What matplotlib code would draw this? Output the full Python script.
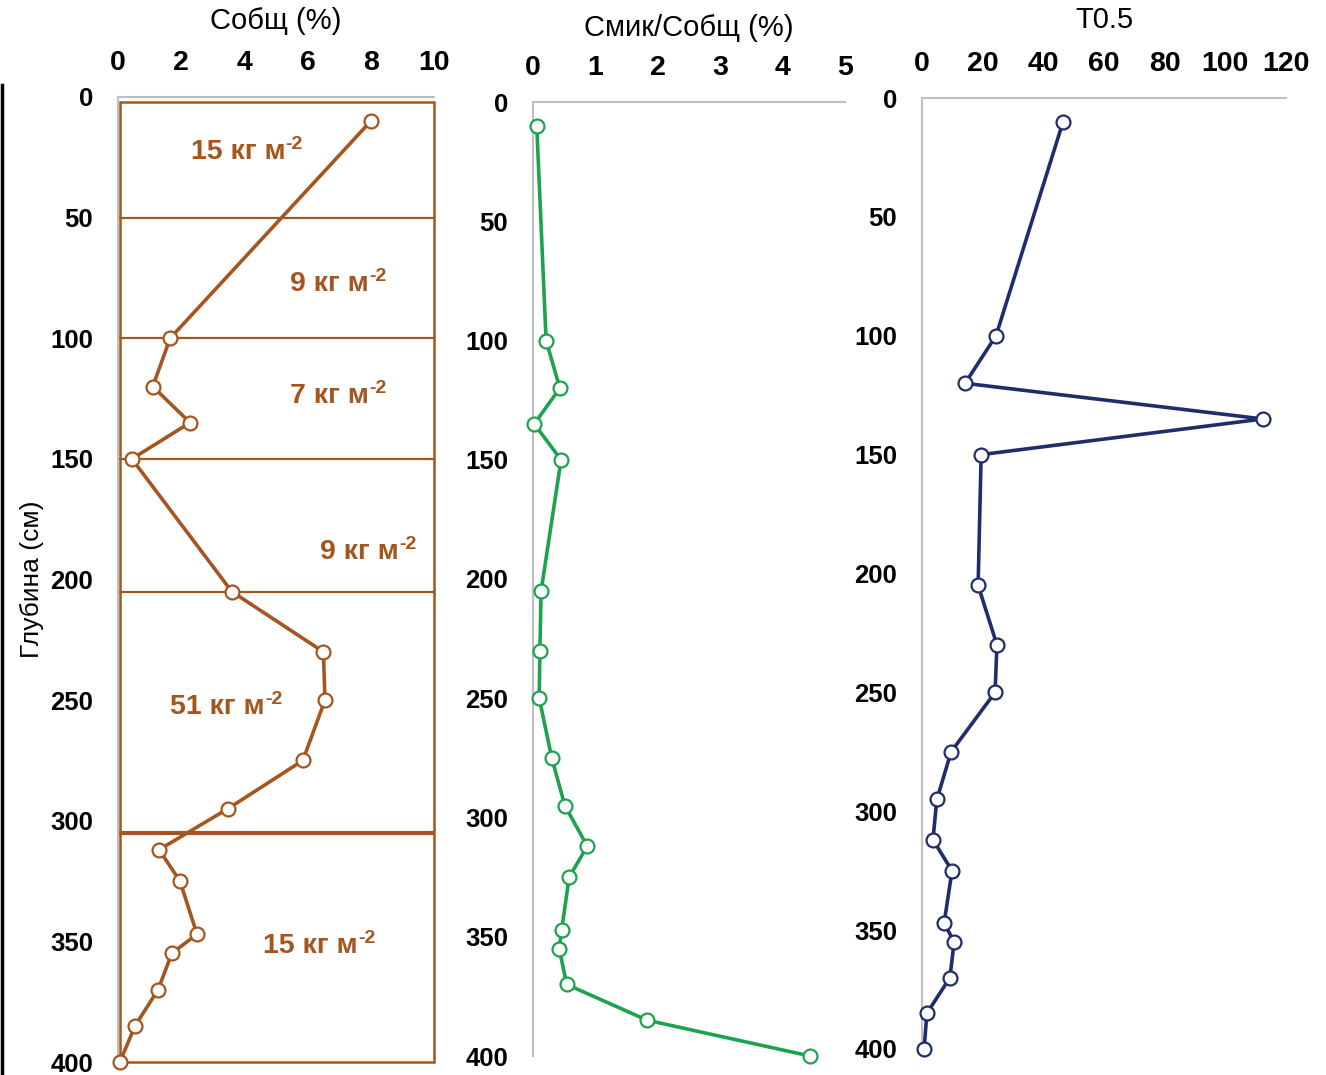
import matplotlib
matplotlib.use('Agg')
from matplotlib import pyplot as plt
from matplotlib.lines import Line2D
from matplotlib.patches import Rectangle

plt.rcParams['font.family'] = ['Liberation Sans', 'DejaVu Sans']

depth = [10, 100, 120, 135, 150, 205, 230, 250, 275, 295, 312, 325, 347, 355, 370, 385, 400]
c_total = [8.0, 1.65, 1.1, 2.28, 0.44, 3.6, 6.5, 6.55, 5.85, 3.48, 1.3, 1.96, 2.5, 1.7, 1.27, 0.54, 0.06]
c_mic_ratio = [0.06, 0.21, 0.43, 0.02, 0.45, 0.13, 0.11, 0.1, 0.3, 0.51, 0.87, 0.58, 0.46, 0.42, 0.54, 1.83, 4.44]
t05 = [46.5, 24.4, 14.2, 112.4, 19.5, 18.5, 24.7, 24.1, 9.6, 4.9, 3.6, 9.9, 7.3, 10.6, 9.2, 1.6, 0.7]

layer_bounds = [50, 100, 150, 205, 305]
stock_labels = ['15', '9', '7', '9', '51', '15']
stock_x = [3.8, 6.7, 6.7, 7.65, 3.15, 6.1]
stock_y = [22.8, 77.5, 124, 188.6, 252.8, 351.8]

brown = '#A5561E'
green = '#1DA34F'
navy = '#1F2D6B'
gray = '#BFBFBF'

fig = plt.figure(figsize=(13.26, 10.75), dpi=100)
W, H = 1326, 1075


def make_ax(x0, x1, y0, y1):
    return fig.add_axes([x0 / W, 1 - y1 / H, (x1 - x0) / W, (y1 - y0) / H])


def style(ax, xmax, xstep, title, tpad):
    ax.set_xlim(0, xmax)
    ax.set_ylim(400, 0)
    ax.set_xticks(range(0, xmax + 1, xstep))
    ax.set_yticks(range(0, 401, 50))
    ax.xaxis.tick_top()
    ax.xaxis.set_label_position('top')
    ax.tick_params(length=0)
    ax.tick_params(axis='x', pad=15, labelsize=20.5)
    ax.tick_params(axis='y', pad=18, labelsize=18.5)
    for lab in ax.get_xticklabels() + ax.get_yticklabels():
        lab.set_fontweight('bold')
    for s in ['right', 'bottom']:
        ax.spines[s].set_visible(False)
    for s in ['left', 'top']:
        ax.spines[s].set_color(gray)
        ax.spines[s].set_linewidth(1.5)
    ax.set_xlabel(title, fontsize=21, labelpad=tpad)


ax1 = make_ax(118, 434, 97, 1062)
ax2 = make_ax(533, 845, 102, 1056)
ax3 = make_ax(922, 1286, 98, 1049)

style(ax1, 10, 2, 'Собщ (%)', 15)
style(ax2, 5, 1, 'Смик/Собщ (%)', 14)
style(ax3, 120, 20, 'T0.5', 17)

ax1.add_patch(Rectangle((0.06, 2), 9.94, 398, fill=False, edgecolor=brown, linewidth=1.8,
                        clip_on=False, zorder=2))
for i, b in enumerate(layer_bounds):
    ax1.axhline(b, color=brown, linewidth=3 if i == len(layer_bounds) - 1 else 1.6, zorder=2)
for lab, x, y in zip(stock_labels, stock_x, stock_y):
    t = ax1.text(x, y, lab + ' кг м', color=brown, fontsize=20.5, fontweight='bold',
                 ha='center', va='center')
    ax1.annotate('-2', xy=(1, 0.78), xycoords=t, color=brown, fontsize=14,
                 fontweight='bold', ha='left', va='center')

mk = dict(marker='o', markersize=10, markerfacecolor='white', markeredgewidth=1.6,
          linewidth=2.6, clip_on=False, zorder=3)
ax1.plot(c_total, depth, color=brown, **mk)
ax2.plot(c_mic_ratio, depth, color=green, **mk)
ax3.plot(t05, depth, color=navy, **mk)

ax1.set_ylabel('Глубина (см)', fontsize=19, labelpad=4)

fig.add_artist(Line2D([1.5 / W, 1.5 / W], [0, 1 - 85 / H], color='black', linewidth=2.5))

fig.savefig('out.png', dpi=100)
